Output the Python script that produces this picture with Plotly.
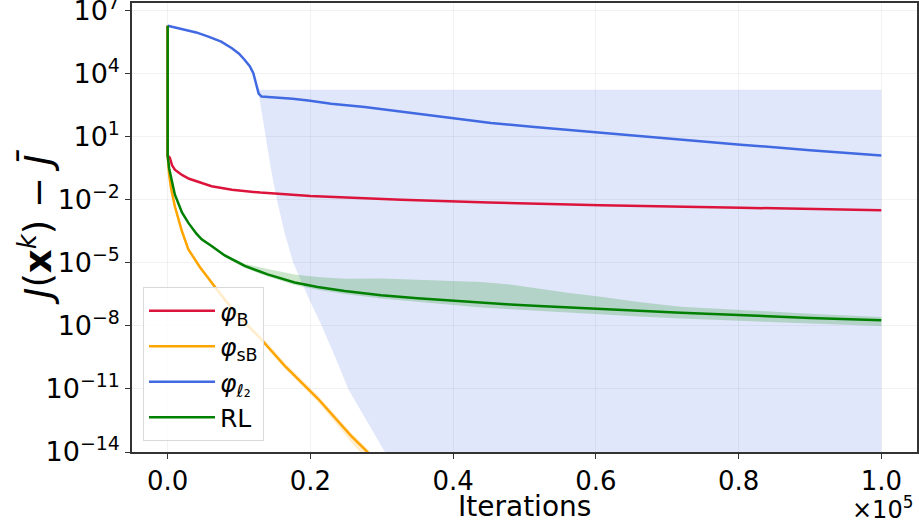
import numpy as np
import plotly.graph_objects as go

# ---------------- data (x in units of 1e5 iterations, y as log10 values) ----------------
x_B = [0, 0.00001, 0.003, 0.006, 0.01, 0.02, 0.03, 0.0476, 0.0615, 0.09, 0.13, 0.2, 0.26, 0.327, 0.45, 0.607, 0.803, 1.0]
logy_B = [6.28, 0.1, 0.0, -0.35, -0.57, -0.82, -1.0, -1.2, -1.36, -1.52, -1.66, -1.82, -1.92, -2.0, -2.13, -2.26, -2.38, -2.5]

x_sB = [0, 0.00001, 0.002, 0.005, 0.01, 0.02, 0.029, 0.045, 0.0615, 0.08, 0.099, 0.117, 0.13, 0.164, 0.211, 0.257, 0.278, 0.3, 0.35, 0.5, 1.0]
logy_sB = [6.28, 0.1, -0.8, -1.5, -2.31, -3.5, -4.36, -5.2, -5.94, -6.75, -7.52, -8.16, -8.6, -9.9, -11.48, -13.23, -13.93, -14.8, -16.6, -22.0, -40.0]
band_sB_up = [0, 0, 0, 0, 0.05, 0.08, 0.1, 0.1, 0.12, 0.12, 0.15, 0.15, 0.15, 0.15, 0.15, 0.15, 0.15, 0.15, 0.15, 0.15, 0.15]
band_sB_dn = [0, 0, 0, 0, 0.05, 0.08, 0.1, 0.1, 0.1, 0.1, 0.1, 0.1, 0.1, 0.12, 0.15, 0.3, 0.4, 0.5, 0.6, 0.8, 1.0]

x_l2 = [0, 0.02, 0.04, 0.057, 0.075, 0.09, 0.1, 0.108, 0.115, 0.12, 0.1245, 0.1275, 0.1315, 0.15, 0.175, 0.197, 0.229, 0.276, 0.327, 0.397, 0.453, 0.514, 0.584, 0.607, 0.677, 0.803, 0.9, 1.0]
logy_l2 = [6.28, 6.13, 5.96, 5.76, 5.52, 5.21, 4.95, 4.65, 4.35, 4.02, 3.39, 3.05, 2.91, 2.87, 2.8, 2.72, 2.57, 2.41, 2.2, 1.89, 1.65, 1.46, 1.25, 1.2, 0.99, 0.62, 0.36, 0.11]
band_l2_x_up = [0.128, 1.0]
band_l2_up = [3.23, 3.23]
band_l2_x_dn = [0.128, 0.137, 0.145, 0.153, 0.164, 0.176, 0.195, 0.216, 0.235, 0.253, 0.278, 0.304, 0.33, 0.4, 1.0]
band_l2_dn = [2.95, 1.0, -0.6, -2.0, -3.6, -5.0, -6.5, -8.0, -9.5, -11.0, -12.5, -14.0, -15.5, -19.0, -50.0]

x_RL = [0, 0.00001, 0.002, 0.005, 0.01, 0.02, 0.029, 0.04, 0.0476, 0.0615, 0.08, 0.108, 0.14, 0.178, 0.21, 0.248, 0.299, 0.35, 0.397, 0.439, 0.48, 0.52, 0.56, 0.607, 0.66, 0.719, 0.803, 0.9, 1.0]
logy_RL = [6.28, 0.1, -0.5, -1.0, -1.75, -2.6, -3.1, -3.6, -3.88, -4.2, -4.65, -5.15, -5.55, -5.94, -6.15, -6.34, -6.54, -6.68, -6.8, -6.9, -6.98, -7.06, -7.13, -7.2, -7.28, -7.37, -7.5, -7.62, -7.73]
band_RL_up = [0, 0, 0.02, 0.03, 0.04, 0.05, 0.05, 0.05, 0.05, 0.05, 0.05, 0.1, 0.25, 0.39, 0.48, 0.58, 0.79, 0.88, 0.95, 0.99, 0.95, 0.82, 0.7, 0.58, 0.42, 0.28, 0.25, 0.2, 0.15]
band_RL_dn = [0, 0, 0.02, 0.03, 0.04, 0.05, 0.05, 0.06, 0.06, 0.07, 0.08, 0.1, 0.1, 0.12, 0.13, 0.14, 0.16, 0.18, 0.2, 0.22, 0.23, 0.24, 0.25, 0.26, 0.27, 0.28, 0.27, 0.27, 0.27]

x_ticks = [0.0, 0.2, 0.4, 0.6, 0.8, 1.0]
x_ticktext = ["0.0", "0.2", "0.4", "0.6", "0.8", "1.0"]
y_tick_exps = [7, 4, 1, -2, -5, -8, -11, -14]

names = ["<i>φ</i><sub>B</sub>", "<i>φ</i><sub>sB</sub>", "<i>φ</i><sub>ℓ₂</sub>", "RL"]

# ---------------- styling ----------------
C_RED = "#DC143C"
C_ORANGE = "#FFA500"
C_BLUE = "#4169E1"
C_GREEN = "#008000"
FONT = "DejaVu Sans"

def p(v):
    return [10.0 ** a for a in v]

def band(xs, ys, up, dn, color, x_up=None, y_up=None, x_dn=None, y_dn=None):
    if x_up is None:
        xu = list(xs); yu = [a + b for a, b in zip(ys, up)]
        xd = list(xs); yd = [a - b for a, b in zip(ys, dn)]
    else:
        xu, yu, xd, yd = x_up, y_up, x_dn, y_dn
    return go.Scatter(x=xu + xd[::-1], y=p(yu + yd[::-1]), fill="toself", fillcolor=color,
                      line=dict(width=0), mode="lines", showlegend=False, hoverinfo="skip")

fig = go.Figure()
# bands
fig.add_trace(band(x_sB, logy_sB, band_sB_up, band_sB_dn, "rgba(255,165,0,0.2)"))
fig.add_trace(band(None, None, None, None, "rgba(65,105,225,0.16)",
                   band_l2_x_up, band_l2_up, band_l2_x_dn, band_l2_dn))
fig.add_trace(band(x_RL, logy_RL, band_RL_up, band_RL_dn, "rgba(0,128,0,0.2)"))
# lines
fig.add_trace(go.Scatter(x=x_B, y=p(logy_B), mode="lines", name=names[0], line=dict(color=C_RED, width=2.5)))
fig.add_trace(go.Scatter(x=x_sB, y=p(logy_sB), mode="lines", name=names[1], line=dict(color=C_ORANGE, width=2.5)))
fig.add_trace(go.Scatter(x=x_l2, y=p(logy_l2), mode="lines", name=names[2], line=dict(color=C_BLUE, width=2.5)))
fig.add_trace(go.Scatter(x=x_RL, y=p(logy_RL), mode="lines", name=names[3], line=dict(color=C_GREEN, width=2.5)))

L, R, T, B = 132, 2, 3, 71
W, H = 919, 523
ph = H - T - B
pw = W - L - R

fig.update_layout(
    width=W, height=H,
    margin=dict(l=L, r=R, t=T, b=B, pad=0, autoexpand=False),
    paper_bgcolor="white", plot_bgcolor="white",
    font=dict(family=FONT, color="#000"),
    showlegend=True,
    legend=dict(x=(143 - L) / pw, y=(H - B - 287) / ph, xanchor="left", yanchor="top",
                bgcolor="rgba(255,255,255,0.8)", bordercolor="#d9d9d9", borderwidth=1,
                font=dict(size=25, family=FONT), itemwidth=66,
                tracegroupgap=0),
    xaxis=dict(range=[-0.05, 1.05], tickvals=x_ticks, ticktext=x_ticktext, automargin=False,
               tickfont=dict(size=26, family=FONT), ticks="outside", ticklen=5, tickwidth=1.3,
               tickcolor="#333", showline=True, linecolor="#333", linewidth=1.5, mirror=True,
               showgrid=True, gridcolor="rgba(0,0,0,0.05)", zeroline=False,
               ticklabeloverflow="allow"),
    yaxis=dict(type="log", range=[-14, 7.36], automargin=False,
               tickvals=[10.0 ** e for e in y_tick_exps],
               ticktext=["10<sup>%s</sup>" % (str(e).replace("-", "−")) for e in y_tick_exps],
               tickfont=dict(size=27, family=FONT), ticks="outside", ticklen=5, tickwidth=1.3,
               tickcolor="#333", showline=True, linecolor="#333", linewidth=1.5, mirror=True,
               showgrid=True, gridcolor="rgba(0,0,0,0.05)", zeroline=False,
               ticklabeloverflow="allow"),
)

fig.add_annotation(text="Iterations", xref="paper", yref="paper", x=0.5, y=(H - B - 506) / ph,
                   xanchor="center", yanchor="middle", showarrow=False,
                   font=dict(size=28, family=FONT))
fig.add_annotation(text="×10<sup>5</sup>", xref="paper", yref="paper", x=(882 - L) / pw,
                   y=(H - B - 508) / ph, xanchor="center", yanchor="middle", showarrow=False,
                   font=dict(size=24, family=FONT))
fig.add_annotation(text="<i>J</i>(<b>x</b><sup><i>k</i></sup>) − <i>J̄</i>", xref="paper", yref="paper",
                   x=(36 - L) / pw, y=0.5, xanchor="center", yanchor="middle",
                   textangle=-90, showarrow=False, font=dict(size=37, family=FONT))

fig.write_html("out.html", config={"displayModeBar": False},
               post_script="document.body.style.margin='0px';document.body.style.overflow='hidden';")
